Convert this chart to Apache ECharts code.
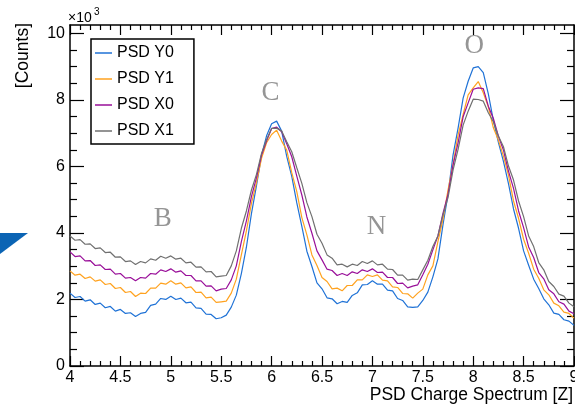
<!DOCTYPE html>
<html><head><meta charset="utf-8">
<script src="https://cdn.jsdelivr.net/npm/echarts@6/dist/echarts.min.js"></script>
<style>html,body{margin:0;padding:0;background:#fff}#c{width:575px;height:409px}</style>
</head><body><div id="c"></div>
<script>
// bin centres (PSD charge, Z)
const binCenters = [4.00,4.05,4.10,4.15,4.20,4.25,4.30,4.35,4.40,4.45,
4.50,4.55,4.60,4.65,4.70,4.75,4.80,4.85,4.90,4.95,
5.00,5.05,5.10,5.15,5.20,5.25,5.30,5.35,5.40,5.45,
5.50,5.55,5.60,5.65,5.70,5.75,5.80,5.85,5.90,5.95,
6.00,6.05,6.10,6.15,6.20,6.25,6.30,6.35,6.40,6.45,
6.50,6.55,6.60,6.65,6.70,6.75,6.80,6.85,6.90,6.95,
7.00,7.05,7.10,7.15,7.20,7.25,7.30,7.35,7.40,7.45,
7.50,7.55,7.60,7.65,7.70,7.75,7.80,7.85,7.90,7.95,
8.00,8.05,8.10,8.15,8.20,8.25,8.30,8.35,8.40,8.45,
8.50,8.55,8.60,8.65,8.70,8.75,8.80,8.85,8.90,8.95,
9.00];
// counts in units of 10^3
const psdY0 = [2.19,2.06,2.09,1.95,1.99,1.85,1.89,1.75,1.79,1.65,
1.70,1.58,1.60,1.49,1.58,1.61,1.82,1.86,2.03,2.00,
2.10,2.00,2.04,1.90,1.92,1.75,1.73,1.56,1.55,1.42,
1.45,1.53,1.77,2.13,2.78,3.57,4.58,5.42,6.33,6.92,
7.28,7.36,7.06,6.30,5.70,4.90,4.20,3.45,2.99,2.50,
2.32,2.05,2.02,1.87,1.94,1.91,2.12,2.20,2.44,2.45,
2.56,2.46,2.46,2.28,2.26,2.03,1.97,1.78,1.76,1.78,
1.97,2.22,2.68,3.22,4.24,5.16,6.34,7.15,8.05,8.56,
8.96,9.00,8.82,8.18,7.38,6.72,6.15,5.48,4.72,4.14,
3.46,3.03,2.61,2.33,2.02,1.84,1.59,1.55,1.39,1.35,
1.22];
const psdY1 = [2.86,2.73,2.76,2.63,2.68,2.55,2.59,2.45,2.48,2.33,
2.36,2.21,2.24,2.09,2.19,2.18,2.34,2.34,2.49,2.46,
2.56,2.46,2.50,2.35,2.38,2.21,2.22,2.05,2.07,1.91,
1.93,1.95,2.19,2.61,3.34,4.06,4.89,5.51,6.24,6.71,
6.96,7.09,6.76,6.49,5.81,5.24,4.46,3.94,3.34,3.02,
2.66,2.54,2.32,2.34,2.26,2.42,2.42,2.59,2.59,2.74,
2.69,2.74,2.58,2.56,2.38,2.36,2.18,2.17,2.04,2.19,
2.31,2.74,3.01,3.74,4.41,5.29,6.06,6.94,7.56,8.15,
8.36,8.55,8.21,7.79,7.16,6.79,6.31,5.74,4.96,4.44,
3.81,3.39,2.91,2.64,2.29,2.14,1.89,1.81,1.62,1.58,
1.44];
const psdX0 = [3.43,3.29,3.31,3.16,3.17,3.02,3.04,2.90,2.91,2.76,
2.78,2.64,2.66,2.56,2.66,2.64,2.78,2.76,2.89,2.84,
2.92,2.82,2.86,2.72,2.72,2.56,2.56,2.40,2.41,2.26,
2.31,2.33,2.59,3.01,3.74,4.36,5.09,5.66,6.34,6.76,
7.14,7.18,7.04,6.68,6.29,5.71,5.14,4.48,3.99,3.46,
3.19,2.91,2.87,2.72,2.78,2.72,2.83,2.78,2.89,2.84,
2.92,2.81,2.82,2.66,2.66,2.48,2.49,2.35,2.40,2.44,
2.74,3.06,3.49,3.91,4.59,5.16,6.04,6.71,7.49,7.91,
8.32,8.36,8.34,7.81,7.44,6.91,6.49,5.86,5.34,4.66,
4.16,3.58,3.26,2.81,2.62,2.29,2.17,1.93,1.86,1.65,
1.57];
const psdX1 = [3.91,3.78,3.80,3.66,3.67,3.53,3.55,3.41,3.42,3.27,
3.28,3.14,3.16,3.05,3.14,3.10,3.22,3.18,3.30,3.24,
3.31,3.21,3.24,3.10,3.12,2.97,2.98,2.83,2.84,2.68,
2.70,2.72,3.01,3.46,4.14,4.66,5.29,5.76,6.39,6.81,
7.14,7.15,7.06,6.74,6.44,5.96,5.49,4.91,4.49,3.96,
3.69,3.34,3.24,3.04,3.06,2.98,3.06,3.02,3.14,3.08,
3.16,3.04,3.06,2.91,2.90,2.73,2.73,2.58,2.61,2.60,
2.89,3.18,3.59,3.91,4.54,5.06,5.89,6.51,7.24,7.66,
8.02,8.01,7.96,7.61,7.34,6.91,6.59,6.01,5.59,4.96,
4.49,3.91,3.59,3.11,2.89,2.54,2.39,2.16,2.10,1.89,
1.78];
const seriesNames = ['PSD Y0','PSD Y1','PSD X0','PSD X1'];
const peakNames = ['B','C','N','O'];
const peakX = [4.92,5.99,7.04,8.01];
const peakY = [4.41,8.20,4.17,9.62];
const yMajorTicks = [0,2,4,6,8,10];
const yMinorTicks = [0.5,1,1.5,2.5,3,3.5,4.5,5,5.5,6.5,7,7.5,8.5,9,9.5];
const xAxisTitle = 'PSD Charge Spectrum [Z]';
const yAxisTitle = '[Counts]';

const FONT = '"Liberation Sans", Arial, Helvetica, sans-serif';
const colors = ['#1f72d6','#ffa21f','#990f99','#707070'];
const allSeries = [psdY0, psdY1, psdX0, psdX1];
const Y_MIN = 0, Y_MAX = 10.25;

function yAx(pos, ticks, len, showLabel, showLine) {
  return {
    type: 'value', position: pos, min: Y_MIN, max: Y_MAX,
    splitLine: {show: false},
    axisLine: {show: showLine, onZero: false, lineStyle: {color: '#000', width: 1.5}},
    axisTick: {show: true, inside: true, length: len, customValues: ticks, lineStyle: {color: '#000', width: 1.2}},
    axisLabel: {show: showLabel, customValues: ticks, fontSize: 16, color: '#000', fontFamily: FONT, margin: 5},
    minorTick: {show: false}
  };
}
function xAx(pos, showLabel) {
  return {
    type: 'value', position: pos, min: 4, max: 9, interval: 0.5,
    splitLine: {show: false},
    axisLine: {onZero: false, lineStyle: {color: '#000', width: 1.5}},
    axisTick: {inside: true, length: 10, lineStyle: {color: '#000', width: 1.2}},
    minorTick: {show: true, splitNumber: 5, length: 5, lineStyle: {color: '#000', width: 1.2}},
    axisLabel: {show: showLabel, fontSize: 16, color: '#000', fontFamily: FONT, margin: 4, showMinLabel: true, showMaxLabel: true}
  };
}

const chart = echarts.init(document.getElementById('c'), null, {renderer: 'canvas'});
const series = allSeries.map((vals, i) => ({
  name: seriesNames[i], type: 'line', xAxisIndex: 0, yAxisIndex: 0,
  data: binCenters.map((x, k) => [x, vals[k]]),
  showSymbol: false, symbol: 'none', color: colors[i],
  lineStyle: {width: 1.2, color: colors[i]}, animation: false, silent: true
}));
series.push({
  type: 'scatter', xAxisIndex: 0, yAxisIndex: 0, symbolSize: 0, silent: true, animation: false,
  data: peakNames.map((n, i) => ({name: n, value: [peakX[i], peakY[i]]})),
  label: {show: true, position: 'inside', formatter: p => p.name, fontFamily: '"Liberation Serif", "Times New Roman", serif',
    fontSize: 27, color: '#7a7a7a'}
});

chart.setOption({
  backgroundColor: '#fff',
  animation: false,
  grid: {left: 70, right: 1, top: 25, bottom: 43, containLabel: false, outerBoundsMode: 'none'},
  xAxis: [xAx('bottom', true), xAx('top', false)],
  yAxis: [
    yAx('left', yMajorTicks, 14, true, true),
    yAx('left', yMinorTicks, 7, false, false),
    yAx('right', yMajorTicks, 14, false, true),
    yAx('right', yMinorTicks, 7, false, false)
  ],
  legend: {
    data: seriesNames, orient: 'vertical', left: 91, top: 39, icon: 'rect',
    itemWidth: 17, itemHeight: 1.5, itemGap: 10, padding: [6, 20, 5, 4],
    borderColor: '#000', borderWidth: 1.5, backgroundColor: '#fff', borderRadius: 0,
    textStyle: {fontSize: 16, color: '#000', fontFamily: FONT}, selectedMode: false
  },
  graphic: [
    {type: 'polygon', shape: {points: [[0, 233], [28, 233], [0, 254]]}, style: {fill: '#0b64b4'}},
    {type: 'text', x: 23, y: 23, rotation: Math.PI / 2,
      style: {text: yAxisTitle, fontSize: 17.5, fontFamily: FONT, fill: '#000', align: 'right', verticalAlign: 'middle'}},
    {type: 'text', x: 573, y: 395,
      style: {text: xAxisTitle, fontSize: 17.5, fontFamily: FONT, fill: '#000', align: 'right', verticalAlign: 'middle'}},
    {type: 'text', x: 68, y: 18,
      style: {text: '×10', fontSize: 14, fontFamily: FONT, fill: '#000', align: 'left', verticalAlign: 'middle'}},
    {type: 'text', x: 94, y: 12,
      style: {text: '3', fontSize: 10, fontFamily: FONT, fill: '#000', align: 'left', verticalAlign: 'middle'}}
  ],
  series: series
});
</script>
</body></html>
